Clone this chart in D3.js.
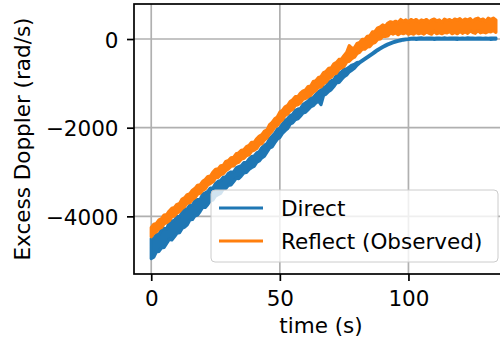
<!DOCTYPE html>
<html><head><meta charset="utf-8">
<script src="https://cdn.jsdelivr.net/npm/d3@7"></script>
<style>html,body{margin:0;padding:0;background:#fff;} svg{display:block;} text{font-family:"DejaVu Sans",sans-serif;fill:#000;}</style>
</head><body><svg id="c" width="500" height="343"></svg>
<script>
// ---- data (per-second min/max of each noisy trace) ----
const timeS = [0,1,2,3,4,5,6,7,8,9,10,11,12,13,14,15,16,17,18,19,20,21,22,23,24,25,26,27,28,29,30,31,32,33,34,35,36,37,38,39,40,41,42,43,44,45,46,47,48,49,50,51,52,53,54,55,56,57,58,59,60,61,62,63,64,65,66,67,68,69,70,71,72,73,74,75,76,77,78,79,80,81,82,83,84,85,86,87,88,89,90,91,92,93,94,95,96,97,98,99,100,101,102,103,104,105,106,107,108,109,110,111,112,113,114,115,116,117,118,119,120,121,122,123,124,125,126,127,128,129,130,131,132,133,134];

const directHi = [-4500,-4490,-4410,-4410,-4290,-4270,-4280,-4140,-4110,-4090,-4000,-4010,-3910,-3840,-3830,-3750,-3750,-3640,-3620,-3620,-3500,-3470,-3440,-3360,-3360,-3260,-3210,-3190,-3120,-3110,-3030,-3000,-3000,-2910,-2880,-2860,-2790,-2790,-2710,-2650,-2640,-2570,-2540,-2450,-2400,-2360,-2250,-2190,-2130,-2040,-2010,-1920,-1840,-1800,-1730,-1700,-1610,-1580,-1570,-1480,-1440,-1400,-1330,-1320,-1250,-1190,-1150,-1090,-1070,-980,-940,-920,-820,-780,-740,-680,-670,-630,-590,-570,-530,-520,-480,-440,-400,-360,-320,-280,-240,-205,-170,-140,-110,-88,-66,-48,-32,-19,-7,1,5,18,22,16,20,24,17,21,19,23,16,20,22,18,24,17,21,19,23,20,16,22,18,24,19,21,17,23,20,18,22,16,21,19,23];
const directLo = [-4950,-4920,-4800,-4790,-4710,-4700,-4610,-4520,-4530,-4460,-4380,-4370,-4270,-4240,-4190,-4080,-4070,-3990,-3970,-3890,-3800,-3800,-3730,-3650,-3630,-3540,-3510,-3480,-3380,-3370,-3300,-3290,-3220,-3140,-3150,-3090,-3020,-3010,-2940,-2900,-2870,-2780,-2750,-2680,-2640,-2550,-2460,-2430,-2340,-2260,-2220,-2130,-2070,-2020,-1920,-1890,-1820,-1800,-1740,-1670,-1650,-1590,-1530,-1500,-1440,-1400,-1480,-1270,-1240,-1180,-1140,-1070,-990,-980,-910,-850,-810,-740,-700,-660,-590,-540,-500,-460,-420,-380,-340,-300,-260,-225,-190,-160,-130,-106,-84,-66,-48,-35,-23,-15,-11,-4,0,-6,-2,1,-5,-1,-3,0,-6,-2,1,-4,-1,-5,0,-3,-2,-6,1,-4,-1,-3,0,-5,-2,1,-4,-1,-3,0,-6,-2,-1];

const reflectHi = [-4250,-4180,-4160,-4080,-4050,-3970,-3960,-3880,-3820,-3800,-3730,-3710,-3610,-3580,-3510,-3490,-3410,-3370,-3300,-3290,-3210,-3170,-3100,-3090,-3000,-2940,-2930,-2860,-2850,-2760,-2740,-2680,-2670,-2590,-2570,-2510,-2500,-2430,-2400,-2330,-2330,-2250,-2190,-2160,-2080,-2050,-1930,-1880,-1800,-1760,-1650,-1610,-1530,-1500,-1410,-1370,-1300,-1300,-1220,-1170,-1150,-1070,-1060,-960,-940,-870,-850,-760,-730,-660,-650,-560,-530,-460,-450,-370,-300,-150,-210,-200,-100,-80,-10,-10,60,70,160,170,250,270,320,290,360,390,370,400,370,440,400,430,390,440,410,440,390,430,410,440,390,430,450,410,430,380,450,420,440,400,450,430,460,410,450,430,460,400,450,470,430,450,400,470,440,470,430];
const reflectLo = [-4460,-4380,-4350,-4280,-4250,-4170,-4140,-4100,-4010,-3990,-3930,-3890,-3820,-3780,-3700,-3690,-3620,-3580,-3500,-3480,-3410,-3380,-3290,-3260,-3220,-3130,-3120,-3060,-3040,-2970,-2930,-2870,-2860,-2800,-2780,-2710,-2690,-2630,-2610,-2530,-2510,-2470,-2380,-2360,-2280,-2230,-2140,-2080,-1990,-1950,-1870,-1820,-1730,-1690,-1620,-1580,-1500,-1480,-1440,-1360,-1340,-1300,-1270,-1200,-1160,-1090,-1080,-1010,-970,-890,-860,-790,-770,-680,-650,-610,-520,-500,-440,-410,-330,-300,-230,-230,-180,-170,-100,-80,-10,0,60,60,70,140,110,140,100,140,120,150,110,130,110,150,120,140,110,160,130,110,170,120,140,120,150,140,170,120,150,120,170,130,160,130,180,150,130,190,140,160,140,170,160,190,150];

const seriesNames = ["Direct", "Reflect (Observed)"];
const seriesColors = ["#1f77b4", "#ff7f0e"];
const xTicks = [0, 50, 100];
const xTickLabels = ["0", "50", "100"];
const yTicks = [0, -2000, -4000];
const yTickLabels = ["0", "\u22122000", "\u22124000"];
const xLabel = "time (s)";
const yLabel = "Excess Doppler (rad/s)";

// ---- drawing ----
const svg = d3.select("#c");
const L = 134, R = 508, T = 4, B = 274;
const FS = 21.5;
const x = d3.scaleLinear().domain([-6.7, 138.7]).range([L, R]);
const y = d3.scaleLinear().domain([-5300, 790]).range([B, T]);

svg.append("defs").append("clipPath").attr("id", "clip")
  .append("rect").attr("x", L).attr("y", T).attr("width", R - L).attr("height", B - T);

// grid
const grid = svg.append("g").attr("stroke", "#b0b0b0").attr("stroke-width", 1.7);
grid.selectAll("line.gx").data(xTicks).join("line").attr("class", "gx")
  .attr("x1", d => x(d)).attr("x2", d => x(d)).attr("y1", T).attr("y2", B);
grid.selectAll("line.gy").data(yTicks).join("line").attr("class", "gy")
  .attr("x1", L).attr("x2", R).attr("y1", d => y(d)).attr("y2", d => y(d));

// series drawn as min/max envelope of the noisy trace, stroked with the line width
const series = [
  {lo: directLo, hi: directHi, color: seriesColors[0]},
  {lo: reflectLo, hi: reflectHi, color: seriesColors[1]}
];
const area = s => d3.area()
  .x((d, i) => x(timeS[i]))
  .y0((d, i) => y(s.lo[i]))
  .y1((d, i) => y(s.hi[i]))(timeS);
svg.append("g").attr("clip-path", "url(#clip)")
  .selectAll("path").data(series).join("path")
  .attr("d", s => area(s))
  .attr("fill", s => s.color)
  .attr("stroke", s => s.color)
  .attr("stroke-width", 3.2)
  .attr("stroke-linejoin", "round");

// axes
const xa = svg.append("g").attr("transform", `translate(0,${B})`)
  .call(d3.axisBottom(x).tickValues(xTicks).tickFormat((d, i) => xTickLabels[i]).tickSize(7));
xa.select(".domain").remove();
xa.selectAll("line").attr("stroke", "#000").attr("stroke-width", 1.7);
xa.selectAll("text").attr("y", 32).attr("dy", 0).style("font-size", FS + "px")
  .style("font-family", "'DejaVu Sans', sans-serif").attr("fill", "#000");

const ya = svg.append("g").attr("transform", `translate(${L},0)`)
  .call(d3.axisLeft(y).tickValues(yTicks).tickFormat((d, i) => yTickLabels[i]).tickSize(7));
ya.select(".domain").remove();
ya.selectAll("line").attr("stroke", "#000").attr("stroke-width", 1.7);
ya.selectAll("text").attr("x", -15.5).attr("y", 8).attr("dy", 0).style("font-size", FS + "px")
  .style("font-family", "'DejaVu Sans', sans-serif").attr("fill", "#000");

// spines
svg.append("rect").attr("x", L).attr("y", T).attr("width", R - L).attr("height", B - T)
  .attr("fill", "none").attr("stroke", "#000").attr("stroke-width", 1.7);

// labels
svg.append("text").attr("x", (L + R) / 2).attr("y", 333).attr("text-anchor", "middle")
  .style("font-size", FS + "px").text(xLabel);
svg.append("text").attr("transform", `translate(29.5,${(T + B) / 2}) rotate(-90)`)
  .attr("text-anchor", "middle").style("font-size", FS + "px").text(yLabel);

// legend
const lg = svg.append("g");
lg.append("rect").attr("x", 211).attr("y", 190).attr("width", 287).attr("height", 72)
  .attr("rx", 4).attr("fill", "#fff").attr("fill-opacity", 0.8)
  .attr("stroke", "#cccccc").attr("stroke-width", 1);
const items = lg.selectAll("g.item").data(seriesNames).join("g").attr("class", "item")
  .attr("transform", (d, i) => `translate(0,${208 + i * 33})`);
items.append("line").attr("x1", 219).attr("x2", 263).attr("y1", 0).attr("y2", 0)
  .attr("stroke", (d, i) => seriesColors[i]).attr("stroke-width", 3.2);
items.append("text").attr("x", 281).attr("y", 7.6).style("font-size", FS + "px").text(d => d);
</script></body></html>
